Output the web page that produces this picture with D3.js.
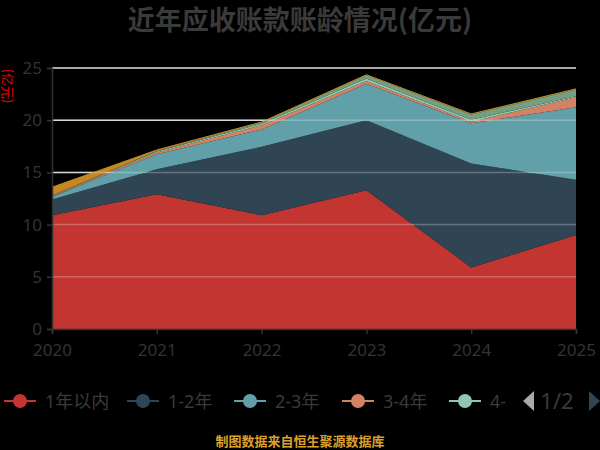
<!DOCTYPE html>
<html>
<head>
<meta charset="utf-8">
<script src="https://cdn.jsdelivr.net/npm/d3@7/dist/d3.min.js"></script>
<style>
  body { margin: 0; background: #000; }
  svg { display: block; font-family: "Noto Sans CJK SC", "Noto Sans", sans-serif; }
</style>
</head>
<body>
<svg id="chart" width="600" height="450"></svg>
<script>
// years on the x axis
var years = [2020, 2021, 2022, 2023, 2024, 2025];
var seriesNames = ["1年以内", "1-2年", "2-3年", "3-4年", "4-5年", "5年以上", "其他"];
var colors = ["#c23531", "#2f4554", "#61a0a8", "#d48265", "#91c7ae", "#749f83", "#ca8622"];

// values in 亿元
var within1 = [10.9, 12.9, 10.9, 13.3, 5.9, 9.0];
var y1to2 = [1.5, 2.4, 6.55, 6.7, 9.95, 5.3];
var y2to3 = [0.25, 1.45, 1.67, 3.5, 3.85, 6.95];
var y3to4 = [0.05, 0.15, 0.4, 0.25, 0.15, 0.95];
var y4to5 = [0.05, 0.1, 0.15, 0.25, 0.2, 0.1];
var over5 = [0.03, 0.05, 0.1, 0.3, 0.5, 0.65];
var other = [0.8, 0.1, 0.05, 0.05, 0.05, 0.05];
var yTicks = [0, 5, 10, 15, 20, 25];

var allSeries = [within1, y1to2, y2to3, y3to4, y4to5, over5, other];

var svg = d3.select("#chart");
svg.append("rect").attr("width", 600).attr("height", 450).attr("fill", "#000");

var x = d3.scaleLinear().domain([2020, 2025]).range([52, 576]);
var y = d3.scaleLinear().domain([0, 25]).range([329, 68]);

var rows = years.map(function(yr, i) {
  var r = { year: yr };
  seriesNames.forEach(function(n, k) { r[n] = allSeries[k][i]; });
  return r;
});
var stacked = d3.stack().keys(seriesNames)(rows);

// grid below the areas
svg.append("g").selectAll("line").data(yTicks.slice(1)).enter().append("line")
  .attr("x1", x(2020)).attr("x2", x(2025))
  .attr("y1", function(d) { return y(d); }).attr("y2", function(d) { return y(d); })
  .attr("stroke", "#ccc").attr("stroke-width", 1.5);

var area = d3.area()
  .x(function(d) { return x(d.data.year); })
  .y0(function(d) { return y(d[0]); })
  .y1(function(d) { return y(d[1]); });

svg.append("g").selectAll("path").data(stacked).enter().append("path")
  .attr("d", area)
  .attr("fill", function(d, i) { return colors[i]; });

// top edge of the stack
svg.append("path")
  .datum(stacked[stacked.length - 1])
  .attr("d", d3.line().x(function(d) { return x(d.data.year); }).y(function(d) { return y(d[1]); }))
  .attr("fill", "none").attr("stroke", "#b9902a").attr("stroke-width", 1);

// faint grid on top so it shows through the areas
svg.append("g").selectAll("line").data(yTicks.slice(1)).enter().append("line")
  .attr("x1", x(2020)).attr("x2", x(2025))
  .attr("y1", function(d) { return y(d); }).attr("y2", function(d) { return y(d); })
  .attr("stroke", "#fff").attr("stroke-opacity", 0.25).attr("stroke-width", 1.5);

// axes
var yAxis = svg.append("g").attr("transform", "translate(" + x(2020) + ",0)")
  .call(d3.axisLeft(y).tickValues(yTicks).tickSize(5).tickPadding(5));
var xAxis = svg.append("g").attr("transform", "translate(0," + y(0) + ")")
  .call(d3.axisBottom(x).tickValues(years).tickFormat(d3.format("d")).tickSize(5).tickPadding(10));

[yAxis, xAxis].forEach(function(ax) {
  ax.select(".domain").attr("stroke", "#333").attr("stroke-width", 1.5);
  ax.selectAll(".tick line").attr("stroke", "#333").attr("stroke-width", 1.5);
  ax.selectAll(".tick text").attr("fill", "#333").attr("font-size", 17)
    .attr("font-family", "'Noto Sans', sans-serif");
});

// y axis name
svg.append("text")
  .attr("transform", "translate(3,86) rotate(90)")
  .attr("text-anchor", "middle")
  .attr("font-size", 13).attr("fill", "#e00")
  .text("(亿元)");

// title
svg.append("text")
  .attr("x", 300).attr("y", 30)
  .attr("text-anchor", "middle")
  .attr("font-size", 27).attr("font-weight", "bold").attr("fill", "#3a3a3a")
  .text("近年应收账款账龄情况(亿元)");

// legend, first page only; item starts follow the reference layout
var legendX = [4, 127, 234, 342, 449];
var defs = svg.append("defs");
defs.append("clipPath").attr("id", "legclip")
  .append("rect").attr("x", 0).attr("y", 385).attr("width", 507).attr("height", 35);
var leg = svg.append("g").attr("clip-path", "url(#legclip)");
seriesNames.slice(0, 5).forEach(function(n, i) {
  var g = leg.append("g").attr("transform", "translate(" + legendX[i] + ",401)");
  g.append("line").attr("x1", 0).attr("x2", 32).attr("y1", 0).attr("y2", 0)
    .attr("stroke", colors[i]).attr("stroke-width", 2);
  g.append("circle").attr("cx", 16).attr("cy", 0).attr("r", 7).attr("fill", colors[i]);
  g.append("text").attr("x", 41).attr("y", 7)
    .attr("font-size", 18).attr("fill", "#3a3a3a")
    .attr("font-family", "'Noto Sans', 'Noto Sans CJK SC', sans-serif")
    .text(n);
});

// pager
svg.append("path").attr("d", "M534,391 L523,401 L534,411 Z").attr("fill", "#aaa");
svg.append("text").attr("x", 557).attr("y", 409).attr("text-anchor", "middle")
  .attr("font-size", 22).attr("fill", "#3a3a3a")
  .attr("font-family", "'Noto Sans', sans-serif").text("1/2");
svg.append("path").attr("d", "M589,391 L600,401 L589,411 Z").attr("fill", "#2f4554");

// footer
svg.append("text")
  .attr("x", 300).attr("y", 446)
  .attr("text-anchor", "middle")
  .attr("font-size", 13).attr("font-weight", "bold").attr("fill", "#d9a12b")
  .text("制图数据来自恒生聚源数据库");
</script>
</body>
</html>
